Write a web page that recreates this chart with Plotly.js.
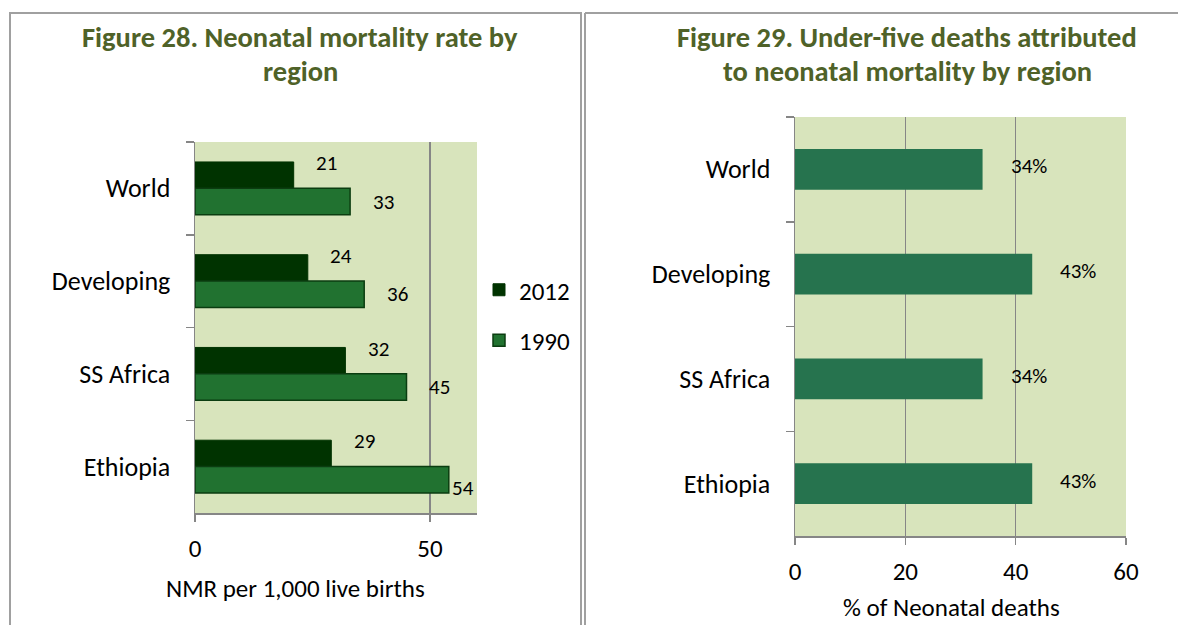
<!DOCTYPE html>
<html>
<head>
<meta charset="utf-8">
<script src="https://cdn.plot.ly/plotly-3.0.1.min.js"></script>
<style>html,body{margin:0;padding:0;background:#fff;}#chart{width:1178px;height:625px;}</style>
</head>
<body>
<div id="chart"></div>
<script>
// ---- data ----
const categories = ['World', 'Developing', 'SS Africa', 'Ethiopia'];
const nmr2012 = [21, 24, 32, 29];
const nmr1990 = [33, 36, 45, 54];
const neonatalShare = [34, 43, 34, 43];
const seriesNames = ['2012', '1990'];
const xTicksLeft = [0, 50];
const xTicksRight = [0, 20, 40, 60];

// ---- style ----
const W = 1178, H = 625;
const FONT = 'Carlito, Calibri, Lato, sans-serif';
const TITLE_COLOR = '#4f6228';
const GRID = '#868686';
const BG = '#d8e4bc';
const C2012 = '#003300';
const C1990 = '#217230';
const CSHARE = '#26734e';
const px = v => v / W, py = v => 1 - v / H;

const L = {x0: 195, x1: 477, y0: 142, y1: 513, xmax: 60};
const R = {x0: 795, x1: 1126, y0: 117, y1: 536, xmax: 60};
const BARGAP = 0.43;
const RIGHT_WIDTH = 0.39;

const traces = [
  {type: 'bar', orientation: 'h', name: seriesNames[0], y: categories, x: nmr2012,
   xaxis: 'x', yaxis: 'y', marker: {color: C2012, line: {color: C2012, width: 1}},
   legendgroup: 'a', hoverinfo: 'x'},
  {type: 'bar', orientation: 'h', name: seriesNames[1], y: categories, x: nmr1990,
   xaxis: 'x', yaxis: 'y', marker: {color: C1990, line: {color: '#0b3d10', width: 1.5}},
   legendgroup: 'b', hoverinfo: 'x'},
  {type: 'bar', orientation: 'h', name: 'share', y: categories, x: neonatalShare,
   xaxis: 'x2', yaxis: 'y2', width: RIGHT_WIDTH, showlegend: false,
   marker: {color: CSHARE, line: {color: CSHARE, width: 0}}, hoverinfo: 'x'}
];

const LABEL_SIZE = 21;
const annotations = [];
// data labels, left chart
const half = (1 - BARGAP) / 4;
const plotWL = L.x1 - L.x0;
[nmr2012, nmr1990].forEach((arr, s) => {
  arr.forEach((v, i) => {
    const barEnd = v / L.xmax * plotWL;
    const overflow = barEnd + 33 + 12 > plotWL;
    annotations.push({
      xref: 'x', yref: 'y', x: v, y: i + (s === 0 ? -half : half),
      text: String(v), showarrow: false,
      xanchor: overflow ? 'left' : 'center', xshift: overflow ? 1 : 33,
      yshift: s === 0 ? 12 : (overflow ? -8 : 0),
      font: {family: FONT, size: LABEL_SIZE, color: '#000'}
    });
  });
});
// data labels, right chart
neonatalShare.forEach((v, i) => {
  annotations.push({
    xref: 'x2', yref: 'y2', x: v, y: i, text: v + '%', showarrow: false,
    xanchor: 'center', xshift: 46, yshift: 3,
    font: {family: FONT, size: LABEL_SIZE, color: '#000'}
  });
});
// panel titles
const titleLines = [
  ['Figure 28. Neonatal mortality rate by', 300, 38],
  ['region', 300, 72],
  ['Figure 29. Under-five deaths attributed', 907, 37],
  ['to neonatal mortality by region', 907, 71]
];
titleLines.forEach(t => annotations.push({
  xref: 'paper', yref: 'paper', x: px(t[1]), y: py(t[2]), text: '<b>' + t[0] + '</b>',
  showarrow: false, xanchor: 'center', yanchor: 'middle',
  font: {family: FONT, size: 28.5, color: TITLE_COLOR}
}));
// axis titles
annotations.push({xref: 'paper', yref: 'paper', x: px(295), y: py(588), text: 'NMR per 1,000 live births',
  showarrow: false, xanchor: 'center', yanchor: 'middle', font: {family: FONT, size: 25, color: '#000'}});
annotations.push({xref: 'paper', yref: 'paper', x: px(951), y: py(607), text: '% of Neonatal deaths',
  showarrow: false, xanchor: 'center', yanchor: 'middle', font: {family: FONT, size: 25, color: '#000'}});

const border = '#a0a0a0';
const shapes = [
  {type: 'rect', xref: 'paper', yref: 'paper', x0: px(10), x1: px(581), y0: py(13), y1: py(640),
   line: {color: border, width: 2}, fillcolor: 'rgba(0,0,0,0)'},
  {type: 'line', xref: 'paper', yref: 'paper', x0: px(585), x1: px(585), y0: py(13), y1: py(640),
   line: {color: border, width: 2}},
  {type: 'line', xref: 'paper', yref: 'paper', x0: px(585), x1: px(1190), y0: py(13), y1: py(13),
   line: {color: border, width: 2}}
];

const xCommon = {
  showline: true, linecolor: GRID, linewidth: 1.5, ticks: 'outside', ticklen: 7, tickcolor: GRID, tickwidth: 1.5,
  showgrid: true, gridcolor: GRID, gridwidth: 1.5, zeroline: false,
  tickfont: {family: FONT, size: 25, color: '#000'},
  tickmode: 'array', ticklabelstandoff: 5, fixedrange: true
};
const yCommon = {
  type: 'category', showline: true, linecolor: GRID, linewidth: 1.5, ticks: 'outside', ticklen: 8,
  tickcolor: GRID, tickwidth: 1.5, tickson: 'boundaries', showgrid: false, zeroline: false,
  tickfont: {family: FONT, size: 26, color: '#000'}, range: [3.5, -0.5], ticklabelstandoff: 18, fixedrange: true
};

const layout = {
  width: W, height: H, margin: {l: 0, r: 0, t: 0, b: 0},
  paper_bgcolor: '#fff', plot_bgcolor: BG,
  barmode: 'group', bargap: BARGAP, bargroupgap: 0,
  font: {family: FONT, color: '#000'},
  xaxis: Object.assign({}, xCommon, {domain: [px(L.x0), px(L.x1)], range: [0, L.xmax],
    tickvals: xTicksLeft, ticktext: xTicksLeft.map(String), anchor: 'y'}),
  yaxis: Object.assign({}, yCommon, {domain: [py(L.y1), py(L.y0)], anchor: 'x'}),
  xaxis2: Object.assign({}, xCommon, {domain: [px(R.x0), px(R.x1)], range: [0, R.xmax],
    tickvals: xTicksRight, ticktext: xTicksRight.map(String), anchor: 'y2'}),
  yaxis2: Object.assign({}, yCommon, {domain: [py(R.y1), py(R.y0)], anchor: 'x2'}),
  showlegend: true,
  legend: {x: px(479), y: py(267), xanchor: 'left', yanchor: 'top', bgcolor: 'rgba(0,0,0,0)',
    traceorder: 'grouped', tracegroupgap: 15, font: {family: FONT, size: 25, color: '#000'},
    itemwidth: 30},
  annotations: annotations,
  shapes: shapes
};

Plotly.newPlot('chart', traces, layout, {displayModeBar: false, staticPlot: true});
</script>
</body>
</html>
